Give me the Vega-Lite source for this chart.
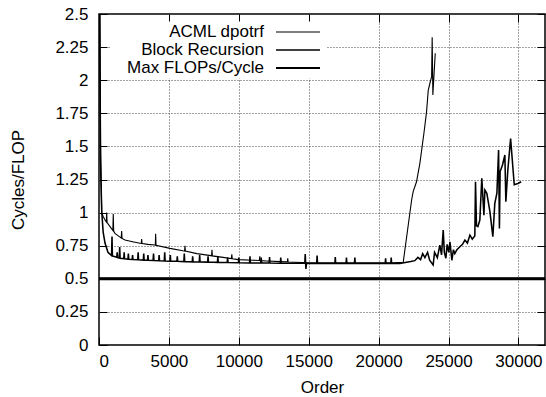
{
  "$schema": "https://vega.github.io/schema/vega-lite/v6.json",
  "width": 446,
  "height": 331,
  "autosize": {"type": "none"},
  "padding": {"left": 99, "top": 14, "right": 1, "bottom": 52},
  "background": "white",
  "config": {
    "font": "Liberation Sans",
    "view": {"stroke": "#000", "strokeWidth": 1.5},
    "axis": {
      "labelFont": "Liberation Sans",
      "labelFontSize": 17,
      "labelColor": "#000",
      "titleFont": "Liberation Sans",
      "titleFontSize": 17,
      "titleFontWeight": "normal",
      "titleColor": "#000",
      "tickColor": "#000",
      "tickWidth": 1,
      "tickSize": -8,
      "domain": false,
      "gridColor": "#444",
      "gridDash": [1, 2],
      "gridWidth": 1
    }
  },
  "datasets": {
    "main": [
      {"series": "ACML dpotrf", "order": 16, "v": 6},
      {"series": "ACML dpotrf", "order": 64, "v": 2.6},
      {"series": "ACML dpotrf", "order": 120, "v": 1.5},
      {"series": "ACML dpotrf", "order": 190, "v": 1.0},
      {"series": "ACML dpotrf", "order": 300, "v": 0.97},
      {"series": "ACML dpotrf", "order": 430, "v": 0.944},
      {"series": "ACML dpotrf", "order": 520, "v": 0.93},
      {"series": "ACML dpotrf", "order": 550, "v": 1.0},
      {"series": "ACML dpotrf", "order": 580, "v": 0.925},
      {"series": "ACML dpotrf", "order": 790, "v": 0.894},
      {"series": "ACML dpotrf", "order": 990, "v": 0.865},
      {"series": "ACML dpotrf", "order": 1020, "v": 0.99},
      {"series": "ACML dpotrf", "order": 1050, "v": 0.86},
      {"series": "ACML dpotrf", "order": 1140, "v": 0.843},
      {"series": "ACML dpotrf", "order": 1500, "v": 0.815},
      {"series": "ACML dpotrf", "order": 1590, "v": 0.808},
      {"series": "ACML dpotrf", "order": 1620, "v": 0.86},
      {"series": "ACML dpotrf", "order": 1650, "v": 0.805},
      {"series": "ACML dpotrf", "order": 1860, "v": 0.793},
      {"series": "ACML dpotrf", "order": 2400, "v": 0.78},
      {"series": "ACML dpotrf", "order": 2930, "v": 0.768},
      {"series": "ACML dpotrf", "order": 3020, "v": 0.767},
      {"series": "ACML dpotrf", "order": 3050, "v": 0.8},
      {"series": "ACML dpotrf", "order": 3080, "v": 0.766},
      {"series": "ACML dpotrf", "order": 3500, "v": 0.76},
      {"series": "ACML dpotrf", "order": 4000, "v": 0.755},
      {"series": "ACML dpotrf", "order": 4030, "v": 0.754},
      {"series": "ACML dpotrf", "order": 4050, "v": 0.84},
      {"series": "ACML dpotrf", "order": 4080, "v": 0.753},
      {"series": "ACML dpotrf", "order": 5080, "v": 0.73},
      {"series": "ACML dpotrf", "order": 6000, "v": 0.712},
      {"series": "ACML dpotrf", "order": 6120, "v": 0.71},
      {"series": "ACML dpotrf", "order": 6150, "v": 0.75},
      {"series": "ACML dpotrf", "order": 6180, "v": 0.709},
      {"series": "ACML dpotrf", "order": 7000, "v": 0.69},
      {"series": "ACML dpotrf", "order": 8000, "v": 0.675},
      {"series": "ACML dpotrf", "order": 8050, "v": 0.674},
      {"series": "ACML dpotrf", "order": 8080, "v": 0.72},
      {"series": "ACML dpotrf", "order": 8110, "v": 0.673},
      {"series": "ACML dpotrf", "order": 9000, "v": 0.66},
      {"series": "ACML dpotrf", "order": 9470, "v": 0.653},
      {"series": "ACML dpotrf", "order": 9500, "v": 0.685},
      {"series": "ACML dpotrf", "order": 9530, "v": 0.652},
      {"series": "ACML dpotrf", "order": 10000, "v": 0.645},
      {"series": "ACML dpotrf", "order": 11000, "v": 0.64},
      {"series": "ACML dpotrf", "order": 11470, "v": 0.638},
      {"series": "ACML dpotrf", "order": 11500, "v": 0.67},
      {"series": "ACML dpotrf", "order": 11530, "v": 0.637},
      {"series": "ACML dpotrf", "order": 12000, "v": 0.635},
      {"series": "ACML dpotrf", "order": 13000, "v": 0.63},
      {"series": "ACML dpotrf", "order": 13470, "v": 0.628},
      {"series": "ACML dpotrf", "order": 13500, "v": 0.655},
      {"series": "ACML dpotrf", "order": 13530, "v": 0.627},
      {"series": "ACML dpotrf", "order": 14000, "v": 0.625},
      {"series": "ACML dpotrf", "order": 15000, "v": 0.62},
      {"series": "ACML dpotrf", "order": 17000, "v": 0.62},
      {"series": "ACML dpotrf", "order": 19000, "v": 0.62},
      {"series": "ACML dpotrf", "order": 21000, "v": 0.62},
      {"series": "ACML dpotrf", "order": 21760, "v": 0.625},
      {"series": "ACML dpotrf", "order": 22360, "v": 1.095},
      {"series": "ACML dpotrf", "order": 22470, "v": 1.158},
      {"series": "ACML dpotrf", "order": 22710, "v": 1.233},
      {"series": "ACML dpotrf", "order": 22950, "v": 1.372},
      {"series": "ACML dpotrf", "order": 23240, "v": 1.599},
      {"series": "ACML dpotrf", "order": 23430, "v": 1.763},
      {"series": "ACML dpotrf", "order": 23550, "v": 1.926},
      {"series": "ACML dpotrf", "order": 23670, "v": 1.977},
      {"series": "ACML dpotrf", "order": 23790, "v": 2.027},
      {"series": "ACML dpotrf", "order": 23830, "v": 2.324},
      {"series": "ACML dpotrf", "order": 23880, "v": 1.888},
      {"series": "ACML dpotrf", "order": 24050, "v": 2.203},

      {"series": "Block Recursion", "order": 8, "v": 8},
      {"series": "Block Recursion", "order": 40, "v": 2.6},
      {"series": "Block Recursion", "order": 100, "v": 1.4},
      {"series": "Block Recursion", "order": 200, "v": 1.0},
      {"series": "Block Recursion", "order": 300, "v": 0.85},
      {"series": "Block Recursion", "order": 430, "v": 0.77},
      {"series": "Block Recursion", "order": 640, "v": 0.7},
      {"series": "Block Recursion", "order": 900, "v": 0.675},
      {"series": "Block Recursion", "order": 930, "v": 0.82},
      {"series": "Block Recursion", "order": 960, "v": 0.672},
      {"series": "Block Recursion", "order": 1270, "v": 0.662},
      {"series": "Block Recursion", "order": 1300, "v": 0.7},
      {"series": "Block Recursion", "order": 1330, "v": 0.66},
      {"series": "Block Recursion", "order": 1450, "v": 0.657},
      {"series": "Block Recursion", "order": 1480, "v": 0.74},
      {"series": "Block Recursion", "order": 1510, "v": 0.655},
      {"series": "Block Recursion", "order": 1770, "v": 0.652},
      {"series": "Block Recursion", "order": 1800, "v": 0.7},
      {"series": "Block Recursion", "order": 1830, "v": 0.651},
      {"series": "Block Recursion", "order": 2070, "v": 0.648},
      {"series": "Block Recursion", "order": 2100, "v": 0.69},
      {"series": "Block Recursion", "order": 2130, "v": 0.647},
      {"series": "Block Recursion", "order": 2370, "v": 0.646},
      {"series": "Block Recursion", "order": 2400, "v": 0.68},
      {"series": "Block Recursion", "order": 2430, "v": 0.645},
      {"series": "Block Recursion", "order": 2770, "v": 0.644},
      {"series": "Block Recursion", "order": 2800, "v": 0.7},
      {"series": "Block Recursion", "order": 2830, "v": 0.643},
      {"series": "Block Recursion", "order": 3170, "v": 0.641},
      {"series": "Block Recursion", "order": 3200, "v": 0.69},
      {"series": "Block Recursion", "order": 3230, "v": 0.641},
      {"series": "Block Recursion", "order": 3470, "v": 0.64},
      {"series": "Block Recursion", "order": 3500, "v": 0.68},
      {"series": "Block Recursion", "order": 3530, "v": 0.64},
      {"series": "Block Recursion", "order": 3870, "v": 0.638},
      {"series": "Block Recursion", "order": 3900, "v": 0.69},
      {"series": "Block Recursion", "order": 3930, "v": 0.638},
      {"series": "Block Recursion", "order": 4270, "v": 0.636},
      {"series": "Block Recursion", "order": 4300, "v": 0.68},
      {"series": "Block Recursion", "order": 4330, "v": 0.636},
      {"series": "Block Recursion", "order": 4670, "v": 0.635},
      {"series": "Block Recursion", "order": 4700, "v": 0.7},
      {"series": "Block Recursion", "order": 4730, "v": 0.635},
      {"series": "Block Recursion", "order": 5070, "v": 0.633},
      {"series": "Block Recursion", "order": 5100, "v": 0.68},
      {"series": "Block Recursion", "order": 5130, "v": 0.633},
      {"series": "Block Recursion", "order": 5570, "v": 0.632},
      {"series": "Block Recursion", "order": 5600, "v": 0.67},
      {"series": "Block Recursion", "order": 5630, "v": 0.632},
      {"series": "Block Recursion", "order": 6070, "v": 0.63},
      {"series": "Block Recursion", "order": 6100, "v": 0.69},
      {"series": "Block Recursion", "order": 6130, "v": 0.63},
      {"series": "Block Recursion", "order": 6670, "v": 0.628},
      {"series": "Block Recursion", "order": 6700, "v": 0.67},
      {"series": "Block Recursion", "order": 6730, "v": 0.628},
      {"series": "Block Recursion", "order": 7170, "v": 0.627},
      {"series": "Block Recursion", "order": 7200, "v": 0.68},
      {"series": "Block Recursion", "order": 7230, "v": 0.627},
      {"series": "Block Recursion", "order": 7770, "v": 0.626},
      {"series": "Block Recursion", "order": 7800, "v": 0.67},
      {"series": "Block Recursion", "order": 7830, "v": 0.626},
      {"series": "Block Recursion", "order": 8470, "v": 0.624},
      {"series": "Block Recursion", "order": 8500, "v": 0.67},
      {"series": "Block Recursion", "order": 8530, "v": 0.624},
      {"series": "Block Recursion", "order": 9170, "v": 0.623},
      {"series": "Block Recursion", "order": 9200, "v": 0.66},
      {"series": "Block Recursion", "order": 9230, "v": 0.623},
      {"series": "Block Recursion", "order": 9970, "v": 0.621},
      {"series": "Block Recursion", "order": 10000, "v": 0.66},
      {"series": "Block Recursion", "order": 10030, "v": 0.621},
      {"series": "Block Recursion", "order": 10770, "v": 0.62},
      {"series": "Block Recursion", "order": 10800, "v": 0.67},
      {"series": "Block Recursion", "order": 10830, "v": 0.62},
      {"series": "Block Recursion", "order": 11570, "v": 0.619},
      {"series": "Block Recursion", "order": 11600, "v": 0.66},
      {"series": "Block Recursion", "order": 11630, "v": 0.619},
      {"series": "Block Recursion", "order": 12170, "v": 0.619},
      {"series": "Block Recursion", "order": 12200, "v": 0.665},
      {"series": "Block Recursion", "order": 12230, "v": 0.619},
      {"series": "Block Recursion", "order": 12970, "v": 0.618},
      {"series": "Block Recursion", "order": 13000, "v": 0.66},
      {"series": "Block Recursion", "order": 13030, "v": 0.618},
      {"series": "Block Recursion", "order": 14720, "v": 0.617},
      {"series": "Block Recursion", "order": 14750, "v": 0.687},
      {"series": "Block Recursion", "order": 14800, "v": 0.574},
      {"series": "Block Recursion", "order": 14840, "v": 0.617},
      {"series": "Block Recursion", "order": 15570, "v": 0.616},
      {"series": "Block Recursion", "order": 15600, "v": 0.675},
      {"series": "Block Recursion", "order": 15630, "v": 0.616},
      {"series": "Block Recursion", "order": 16870, "v": 0.616},
      {"series": "Block Recursion", "order": 16900, "v": 0.665},
      {"series": "Block Recursion", "order": 16930, "v": 0.616},
      {"series": "Block Recursion", "order": 17670, "v": 0.615},
      {"series": "Block Recursion", "order": 17700, "v": 0.66},
      {"series": "Block Recursion", "order": 17730, "v": 0.615},
      {"series": "Block Recursion", "order": 18270, "v": 0.615},
      {"series": "Block Recursion", "order": 18300, "v": 0.66},
      {"series": "Block Recursion", "order": 18330, "v": 0.615},
      {"series": "Block Recursion", "order": 20470, "v": 0.615},
      {"series": "Block Recursion", "order": 20500, "v": 0.655},
      {"series": "Block Recursion", "order": 20530, "v": 0.615},
      {"series": "Block Recursion", "order": 20870, "v": 0.615},
      {"series": "Block Recursion", "order": 20900, "v": 0.66},
      {"series": "Block Recursion", "order": 20930, "v": 0.615},
      {"series": "Block Recursion", "order": 21520, "v": 0.616},
      {"series": "Block Recursion", "order": 22000, "v": 0.625},
      {"series": "Block Recursion", "order": 22300, "v": 0.63},
      {"series": "Block Recursion", "order": 22590, "v": 0.637},
      {"series": "Block Recursion", "order": 22810, "v": 0.662},
      {"series": "Block Recursion", "order": 23000, "v": 0.645},
      {"series": "Block Recursion", "order": 23150, "v": 0.69},
      {"series": "Block Recursion", "order": 23310, "v": 0.66},
      {"series": "Block Recursion", "order": 23500, "v": 0.7},
      {"series": "Block Recursion", "order": 23650, "v": 0.64},
      {"series": "Block Recursion", "order": 23900, "v": 0.604},
      {"series": "Block Recursion", "order": 24000, "v": 0.7},
      {"series": "Block Recursion", "order": 24200, "v": 0.66},
      {"series": "Block Recursion", "order": 24380, "v": 0.755},
      {"series": "Block Recursion", "order": 24500, "v": 0.68},
      {"series": "Block Recursion", "order": 24620, "v": 0.869},
      {"series": "Block Recursion", "order": 24700, "v": 0.7},
      {"series": "Block Recursion", "order": 24810, "v": 0.655},
      {"series": "Block Recursion", "order": 24900, "v": 0.76},
      {"series": "Block Recursion", "order": 25020, "v": 0.7},
      {"series": "Block Recursion", "order": 25100, "v": 0.78},
      {"series": "Block Recursion", "order": 25240, "v": 0.64},
      {"series": "Block Recursion", "order": 25350, "v": 0.72},
      {"series": "Block Recursion", "order": 25450, "v": 0.69},
      {"series": "Block Recursion", "order": 25600, "v": 0.72},
      {"series": "Block Recursion", "order": 25810, "v": 0.742},
      {"series": "Block Recursion", "order": 26000, "v": 0.76},
      {"series": "Block Recursion", "order": 26170, "v": 0.793},
      {"series": "Block Recursion", "order": 26350, "v": 0.77},
      {"series": "Block Recursion", "order": 26530, "v": 0.83},
      {"series": "Block Recursion", "order": 26700, "v": 0.8},
      {"series": "Block Recursion", "order": 26880, "v": 0.823},
      {"series": "Block Recursion", "order": 26930, "v": 1.233},
      {"series": "Block Recursion", "order": 27000, "v": 0.9},
      {"series": "Block Recursion", "order": 27100, "v": 0.894},
      {"series": "Block Recursion", "order": 27240, "v": 0.944},
      {"series": "Block Recursion", "order": 27380, "v": 1.259},
      {"series": "Block Recursion", "order": 27530, "v": 0.98},
      {"series": "Block Recursion", "order": 27600, "v": 1.17},
      {"series": "Block Recursion", "order": 27740, "v": 1.146},
      {"series": "Block Recursion", "order": 27960, "v": 1.007},
      {"series": "Block Recursion", "order": 28170, "v": 0.818},
      {"series": "Block Recursion", "order": 28310, "v": 1.07},
      {"series": "Block Recursion", "order": 28460, "v": 1.146},
      {"series": "Block Recursion", "order": 28580, "v": 1.473},
      {"series": "Block Recursion", "order": 28640, "v": 0.88},
      {"series": "Block Recursion", "order": 28690, "v": 1.31},
      {"series": "Block Recursion", "order": 28860, "v": 1.36},
      {"series": "Block Recursion", "order": 29030, "v": 1.435},
      {"series": "Block Recursion", "order": 29100, "v": 1.083},
      {"series": "Block Recursion", "order": 29240, "v": 1.32},
      {"series": "Block Recursion", "order": 29440, "v": 1.56},
      {"series": "Block Recursion", "order": 29700, "v": 1.21},
      {"series": "Block Recursion", "order": 29960, "v": 1.22},
      {"series": "Block Recursion", "order": 30200, "v": 1.233},
      {"series": "Max FLOPs/Cycle", "order": 0, "v": 0.5},
      {"series": "Max FLOPs/Cycle", "order": 31900, "v": 0.5}
    ],
    "maxline": [
      {"series": "Max FLOPs/Cycle", "order": 0, "v": 0.5},
      {"series": "Max FLOPs/Cycle", "order": 31900, "v": 0.5}
    ]
  },
  "layer": [
    {
      "data": {"name": "main"},
      "mark": {"type": "line", "clip": true, "color": "#000", "strokeCap": "butt"},
      "encoding": {
        "x": {
          "field": "order", "type": "quantitative",
          "scale": {"domain": [0, 31900], "nice": false, "zero": false},
          "axis": {
            "values": [0, 5000, 10000, 15000, 20000, 25000, 30000],
            "format": "d", "grid": true, "title": "Order", "labelPadding": 16, "titlePadding": 10
          }
        },
        "y": {
          "field": "v", "type": "quantitative",
          "scale": {"domain": [0, 2.5], "nice": false, "zero": false},
          "axis": {
            "values": [0, 0.25, 0.5, 0.75, 1, 1.25, 1.5, 1.75, 2, 2.25, 2.5],
            "labelExpr": "'' + datum.value", "grid": true, "title": "Cycles/FLOP", "labelPadding": 19, "titlePadding": 27
          }
        },
        "strokeWidth": {
          "field": "series", "type": "ordinal",
          "scale": {"domain": ["ACML dpotrf", "Block Recursion", "Max FLOPs/Cycle"], "range": [1.1, 2, 3]},
          "legend": {
            "orient": "none", "legendX": 11, "legendY": 7.5, "title": null,
            "symbolType": "M-5,0H5", "symbolSize": 77.44, "symbolStrokeColor": "#000", "symbolOpacity": 1,
            "symbolOffset": 177.5, "labelOffset": -42.5, "labelAlign": "right",
            "labelFontSize": 17, "labelFont": "Liberation Sans", "labelColor": "#000",
            "fillColor": "white", "padding": 2, "rowPadding": 0, "labelLimit": 300,
            "encode": {"symbols": {"update": {"stroke": {"value": "#000"}, "opacity": {"value": 1}}}}
          }
        }
      }
    },
    {
      "data": {"name": "maxline"},
      "mark": {"type": "line", "clip": true, "color": "#000", "strokeWidth": 3, "strokeCap": "butt"},
      "encoding": {
        "x": {
          "field": "order", "type": "quantitative",
          "axis": {
            "orient": "top", "values": [0, 5000, 10000, 15000, 20000, 25000, 30000],
            "labels": false, "grid": false, "title": null
          }
        },
        "y": {
          "field": "v", "type": "quantitative",
          "axis": {
            "orient": "right", "values": [0, 0.25, 0.5, 0.75, 1, 1.25, 1.5, 1.75, 2, 2.25, 2.5],
            "labels": false, "grid": false, "title": null
          }
        }
      }
    }
  ],
  "resolve": {"axis": {"x": "independent", "y": "independent"}}
}
